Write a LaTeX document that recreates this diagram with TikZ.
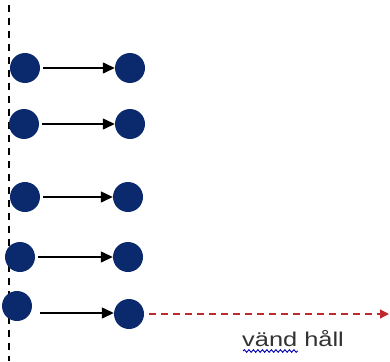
\documentclass[tikz,border=0pt]{standalone}
\usepackage{fontspec}
\setmainfont{Liberation Sans}
\usetikzlibrary{arrows.meta,decorations.pathmorphing}
\definecolor{dotblue}{HTML}{0B2A6E}
\definecolor{arrred}{HTML}{C0282D}
\tikzset{
  dot/.style={circle,fill=dotblue,inner sep=0pt,minimum size=30pt},
  conn/.style={-{Triangle[length=12pt,width=11pt]},line width=1.3pt,black},
}
\begin{document}
\begin{tikzpicture}[x=1pt,y=-1pt]
\useasboundingbox (0,0) rectangle (390,361);
\coordinate (vtop) at (9,5);
\coordinate (vbot) at (9,361);
\draw[black,line width=1.3pt,dash pattern=on 7pt off 6pt] (vtop) -- (vbot);
\node[dot] (l1) at (25,68) {};
\node[dot] (r1) at (130,68) {};
\node[dot] (l2) at (24,124) {};
\node[dot] (r2) at (130,124) {};
\node[dot] (l3) at (25,197) {};
\node[dot] (r3) at (128,197) {};
\node[dot] (l4) at (20,257) {};
\node[dot] (r4) at (128,257) {};
\node[dot] (l5) at (17,306) {};
\node[dot] (r5) at (129,314) {};
\draw[conn] (l1.east) ++(3,0) -- (r1.west);
\draw[conn] (l2.east) ++(3,0) -- (r2.west);
\draw[conn] (l3.east) ++(3,0) -- (r3.west);
\draw[conn] (l4.east) ++(3,0) -- (r4.west);
\draw[conn] (40,313) -- (r5.west |- 0,313);
\coordinate (rend) at (389,314);
\draw[arrred,line width=1.2pt,dash pattern=on 7pt off 5pt,-{Triangle[length=9pt,width=9pt]}] (r5.east) ++(5,0) -- (rend);
\node[anchor=base west,inner sep=0pt,text=black!80] (lab) at (242,346) {\scalebox{1.27}[1]{\fontsize{20pt}{20pt}\selectfont vänd håll}};
\draw[blue!70!black,line width=0.9pt,decorate,decoration={snake,amplitude=1.3pt,segment length=4.5pt}] (243,351) -- (298,351);
\end{tikzpicture}
\end{document}
